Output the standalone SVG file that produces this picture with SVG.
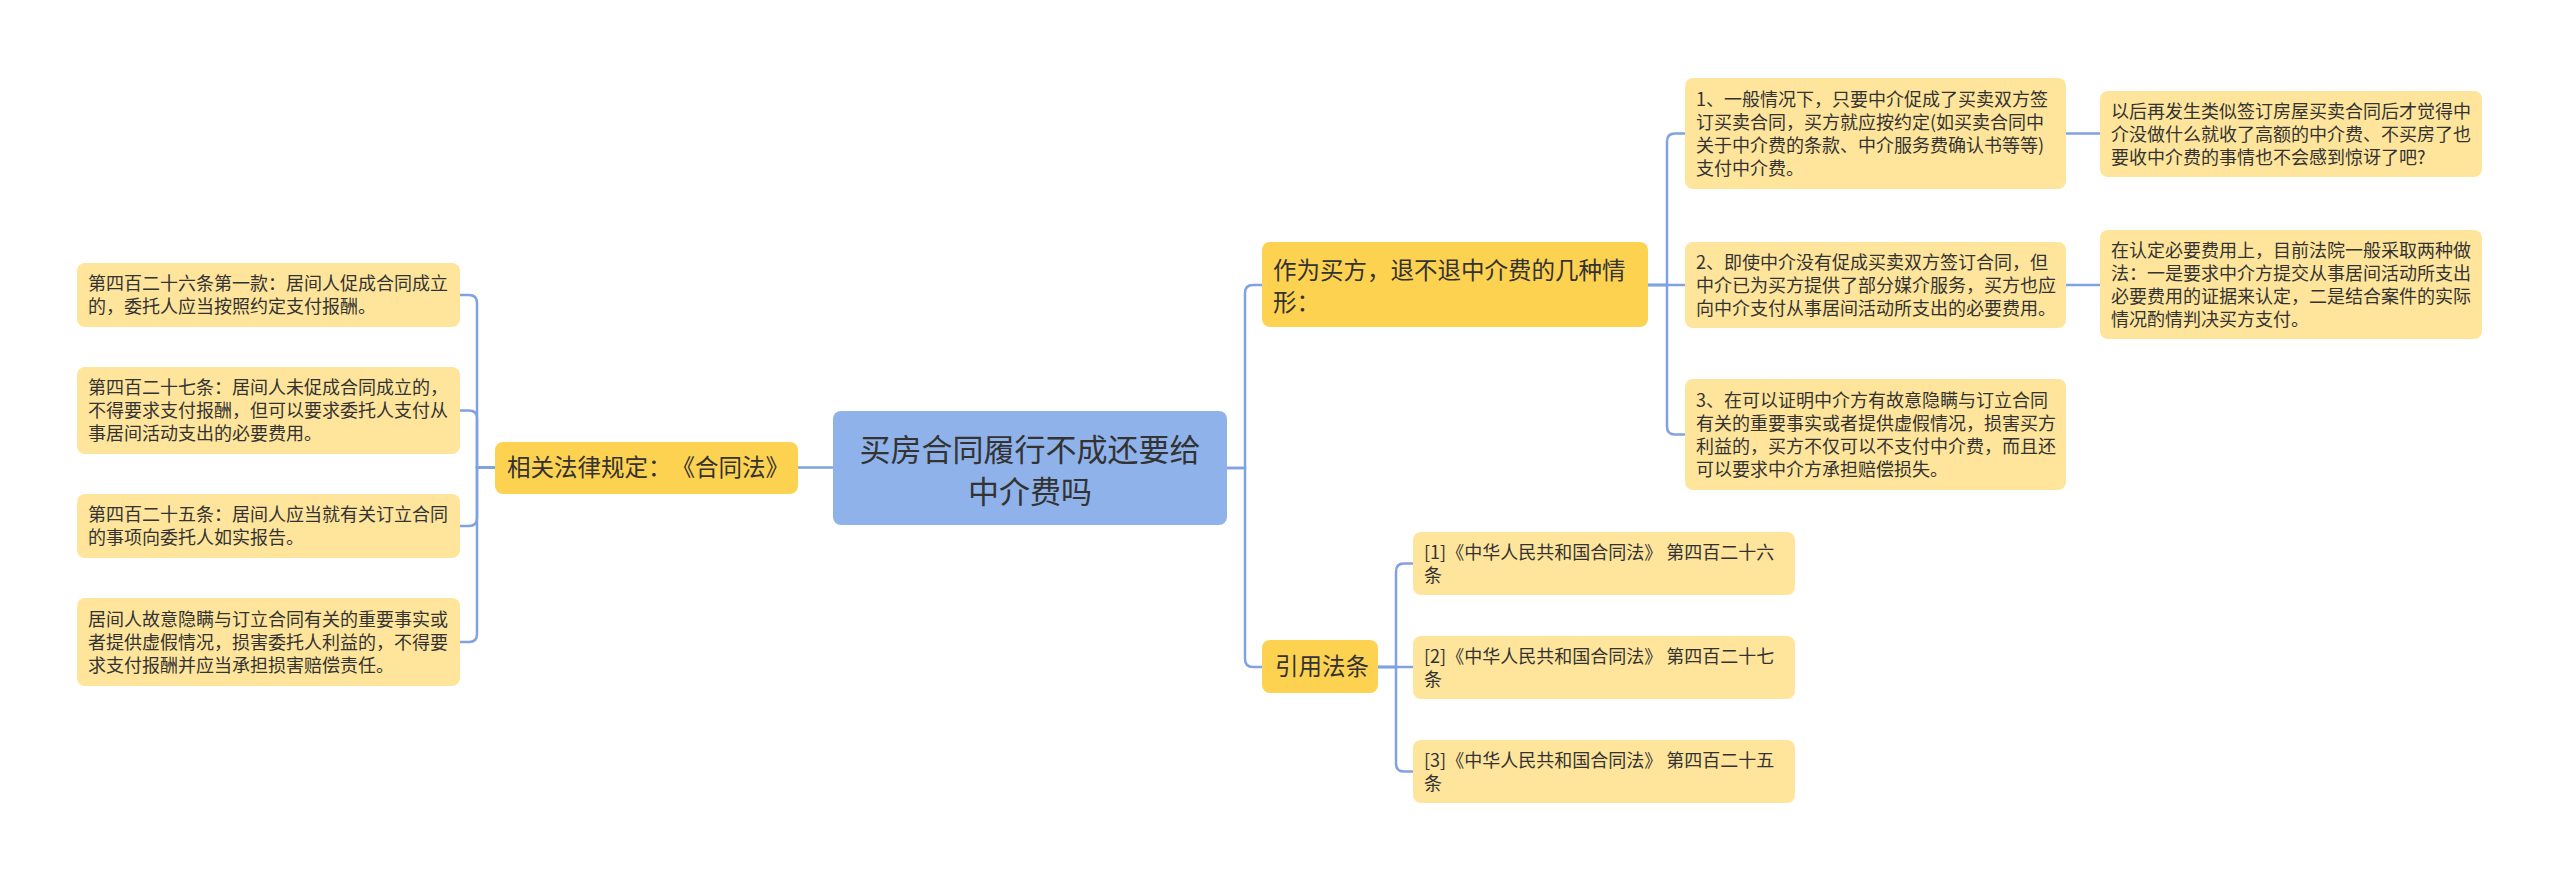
<svg xmlns="http://www.w3.org/2000/svg" width="2560" height="882" viewBox="0 0 2560 882">
<style>
  .bg{fill:#ffffff}
  .root{fill:#8fb2ea}
  .l1{fill:#fdd250}
  .leaf{fill:#fee59b}
  text{font-family:"Noto Sans CJK SC","Noto Sans",sans-serif;fill:#333333;font-feature-settings:"chws" 0,"halt" 0;text-spacing-trim:space-all}
  .t18{font-size:18px}
  .t23{font-size:23.5px}
  .t31{font-size:31px}
  .conn path{fill:none;stroke:#80a2e2;stroke-width:2.5;stroke-linecap:round}
</style>
<rect class="bg" x="0" y="0" width="2560" height="882"/>

<g class="conn" id="connectors">
  <path d="M798 467.5 H833"/>
  <path d="M495 467.5 H477 V303 Q477 295 469 295 H460"/>
  <path d="M495 467.5 H477 V418.5 Q477 410.5 469 410.5 H460"/>
  <path d="M495 467.5 H477 V518 Q477 526 469 526 H460"/>
  <path d="M495 467.5 H477 V634 Q477 642 469 642 H460"/>
  <path d="M1227 468 H1245 V293 Q1245 285 1253 285 H1262"/>
  <path d="M1227 468 H1245 V659 Q1245 667 1253 667 H1262"/>
  <path d="M1648 285 H1667 V141.5 Q1667 133.5 1675 133.5 H1685"/>
  <path d="M1648 285 H1685"/>
  <path d="M1648 285 H1667 V426.5 Q1667 434.5 1675 434.5 H1685"/>
  <path d="M1378 667 H1396 V571.5 Q1396 563.5 1404 563.5 H1413"/>
  <path d="M1378 667 H1413"/>
  <path d="M1378 667 H1396 V763.5 Q1396 771.5 1404 771.5 H1413"/>
  <path d="M2066 133.5 H2100"/>
  <path d="M2066 285 H2100"/>
</g>

<g id="root">
  <rect class="root" x="833" y="411" width="394" height="114" rx="8"/>
  <text class="t31" x="1030" y="461" text-anchor="middle">买房合同履行不成还要给</text>
  <text class="t31" x="1030" y="503" text-anchor="middle">中介费吗</text>
</g>

<g id="law">
  <rect class="l1" x="495" y="442" width="303" height="52" rx="8"/>
  <text class="t23" x="507" y="476">相关法律规定：《合同法》</text>
</g>

<g id="law1">
  <rect class="leaf" x="77" y="263" width="383" height="64" rx="8"/>
  <text class="t18" x="88" y="290">第四百二十六条第一款：居间人促成合同成立</text>
  <text class="t18" x="88" y="313">的，委托人应当按照约定支付报酬。</text>
</g>
<g id="law2">
  <rect class="leaf" x="77" y="367" width="383" height="87" rx="8"/>
  <text class="t18" x="88" y="394">第四百二十七条：居间人未促成合同成立的，</text>
  <text class="t18" x="88" y="417">不得要求支付报酬，但可以要求委托人支付从</text>
  <text class="t18" x="88" y="440">事居间活动支出的必要费用。</text>
</g>
<g id="law3">
  <rect class="leaf" x="77" y="494" width="383" height="64" rx="8"/>
  <text class="t18" x="88" y="521">第四百二十五条：居间人应当就有关订立合同</text>
  <text class="t18" x="88" y="544">的事项向委托人如实报告。</text>
</g>
<g id="law4">
  <rect class="leaf" x="77" y="598" width="383" height="88" rx="8"/>
  <text class="t18" x="88" y="625.5">居间人故意隐瞒与订立合同有关的重要事实或</text>
  <text class="t18" x="88" y="648.5">者提供虚假情况，损害委托人利益的，不得要</text>
  <text class="t18" x="88" y="671.5">求支付报酬并应当承担损害赔偿责任。</text>
</g>

<g id="buyer">
  <rect class="l1" x="1262" y="242" width="386" height="85" rx="8"/>
  <text class="t23" x="1273" y="278.5">作为买方，退不退中介费的几种情</text>
  <text class="t23" x="1273" y="310.5">形：</text>
</g>

<g id="case1">
  <rect class="leaf" x="1685" y="78" width="381" height="111" rx="8"/>
  <text class="t18" x="1696" y="105.5">1、一般情况下，只要中介促成了买卖双方签</text>
  <text class="t18" x="1696" y="128.5">订买卖合同，买方就应按约定(如买卖合同中</text>
  <text class="t18" x="1696" y="151.5">关于中介费的条款、中介服务费确认书等等)</text>
  <text class="t18" x="1696" y="174.5">支付中介费。</text>
</g>
<g id="case2">
  <rect class="leaf" x="1685" y="242" width="381" height="86" rx="8"/>
  <text class="t18" x="1696" y="268.5">2、即使中介没有促成买卖双方签订合同，但</text>
  <text class="t18" x="1696" y="291.5">中介已为买方提供了部分媒介服务，买方也应</text>
  <text class="t18" x="1696" y="314.5">向中介支付从事居间活动所支出的必要费用。</text>
</g>
<g id="case3">
  <rect class="leaf" x="1685" y="379" width="381" height="111" rx="8"/>
  <text class="t18" x="1696" y="406.5">3、在可以证明中介方有故意隐瞒与订立合同</text>
  <text class="t18" x="1696" y="429.5">有关的重要事实或者提供虚假情况，损害买方</text>
  <text class="t18" x="1696" y="452.5">利益的，买方不仅可以不支付中介费，而且还</text>
  <text class="t18" x="1696" y="475.5">可以要求中介方承担赔偿损失。</text>
</g>
<g id="note1">
  <rect class="leaf" x="2100" y="91" width="382" height="86" rx="8"/>
  <text class="t18" x="2111" y="117.5">以后再发生类似签订房屋买卖合同后才觉得中</text>
  <text class="t18" x="2111" y="140.5">介没做什么就收了高额的中介费、不买房了也</text>
  <text class="t18" x="2111" y="163.5">要收中介费的事情也不会感到惊讶了吧?</text>
</g>
<g id="note2">
  <rect class="leaf" x="2100" y="230" width="382" height="109" rx="8"/>
  <text class="t18" x="2111" y="256.5">在认定必要费用上，目前法院一般采取两种做</text>
  <text class="t18" x="2111" y="279.5">法：一是要求中介方提交从事居间活动所支出</text>
  <text class="t18" x="2111" y="302.5">必要费用的证据来认定，二是结合案件的实际</text>
  <text class="t18" x="2111" y="325.5">情况酌情判决买方支付。</text>
</g>

<g id="refs">
  <rect class="l1" x="1262" y="640" width="116" height="53" rx="8"/>
  <text class="t23" x="1275" y="675">引用法条</text>
</g>
<g id="ref1">
  <rect class="leaf" x="1413" y="532" width="382" height="63" rx="8"/>
  <text class="t18" x="1424" y="558.5">[1]《中华人民共和国合同法》 第四百二十六</text>
  <text class="t18" x="1424" y="581.5">条</text>
</g>
<g id="ref2">
  <rect class="leaf" x="1413" y="636" width="382" height="63" rx="8"/>
  <text class="t18" x="1424" y="662.5">[2]《中华人民共和国合同法》 第四百二十七</text>
  <text class="t18" x="1424" y="685.5">条</text>
</g>
<g id="ref3">
  <rect class="leaf" x="1413" y="740" width="382" height="63" rx="8"/>
  <text class="t18" x="1424" y="766.5">[3]《中华人民共和国合同法》 第四百二十五</text>
  <text class="t18" x="1424" y="789.5">条</text>
</g>
</svg>
